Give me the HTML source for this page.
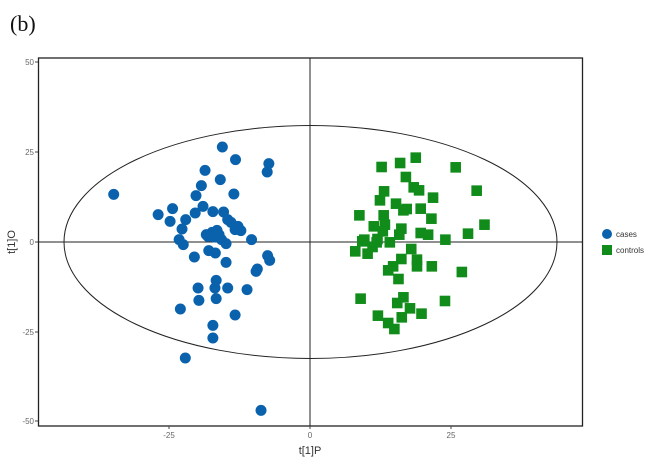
<!DOCTYPE html>
<html><head><meta charset="utf-8"><style>
body{margin:0;background:#fff;}
svg{display:block;font-family:"Liberation Sans",sans-serif;}
</style></head><body>
<svg id="s" width="650" height="468" xmlns="http://www.w3.org/2000/svg">
<text x="10" y="31" font-family="Liberation Serif,serif" font-size="22" fill="#111">(b)</text>
<rect x="38.5" y="58" width="544" height="368" fill="none" stroke="#222" stroke-width="1.3"/>
<line x1="38.5" y1="242" x2="582.5" y2="242" stroke="#222" stroke-width="1"/>
<line x1="310" y1="58" x2="310" y2="426" stroke="#222" stroke-width="1"/>
<ellipse cx="310.5" cy="242" rx="246.5" ry="116.5" fill="none" stroke="#222" stroke-width="1"/>
<g font-size="8" fill="#666" text-anchor="end">
<text x="34" y="65">50</text><text x="34" y="155">25</text><text x="34" y="245">0</text><text x="34" y="335">-25</text><text x="34" y="424">-50</text>
</g>
<g stroke="#444" stroke-width="1">
<line x1="35" y1="62" x2="38" y2="62"/><line x1="35" y1="152" x2="38" y2="152"/><line x1="35" y1="242" x2="38" y2="242"/><line x1="35" y1="332" x2="38" y2="332"/><line x1="35" y1="421" x2="38" y2="421"/>
<line x1="169" y1="426" x2="169" y2="429"/><line x1="310" y1="426" x2="310" y2="429"/><line x1="451" y1="426" x2="451" y2="429"/>
</g>
<g font-size="8" fill="#666" text-anchor="middle">
<text x="169" y="438">-25</text><text x="310" y="438">0</text><text x="451" y="438">25</text>
</g>
<text x="310" y="454" font-size="11" fill="#333" text-anchor="middle">t[1]P</text>
<text transform="translate(15,242) rotate(-90)" font-size="11" fill="#333" text-anchor="middle">t[1]O</text>
<g id="pts"></g>
<circle cx="607" cy="234" r="5" fill="#0a62ad"/>
<text x="616" y="237" font-size="8" fill="#333">cases</text>
<rect x="602" y="245" width="10" height="10" fill="#118c1a"/>
<text x="616" y="253" font-size="8" fill="#333">controls</text>
</svg>
<script>
var cases=[[535,322],[567,360],[648,372],[644,397],[493,392],[530,420],[484,438],[563,463],[271,464],[471,468],[488,500],[379,525],[414,507],[408,545],[446,540],[469,520],[512,516],[538,517],[548,540],[556,548],[573,560],[580,573],[437,568],[566,570],[430,600],[440,615],[496,585],[510,578],[522,572],[527,585],[533,600],[544,612],[606,600],[502,633],[518,640],[467,652],[544,668],[645,648],[650,662],[620,688],[617,695],[476,745],[517,745],[520,722],[548,745],[595,750],[478,782],[520,777],[433,808],[566,826],[512,857],[512,895],[445,955],[629,1112],[500,590],[515,592]];
var ctr=[[922,382],[967,370],[1005,354],[1102,383],[981,412],[1000,443],[1013,452],[928,455],[918,482],[1047,474],[1153,453],[957,492],[983,508],[975,512],[1017,507],[868,527],[927,527],[1043,537],[903,560],[930,555],[970,567],[925,575],[965,585],[1017,580],[1035,585],[1132,582],[1172,555],[1077,600],[875,605],[910,608],[942,608],[858,635],[888,642],[900,622],[994,628],[970,658],[1008,660],[1008,680],[1044,680],[950,680],[938,692],[963,718],[1117,697],[871,777],[975,773],[960,790],[991,806],[1076,784],[913,828],[1019,822],[938,850],[971,833],[953,868],[880,600],[912,598]];
var g=document.getElementById('pts'),ns='http://www.w3.org/2000/svg',h='';
function X(z){return 310+(z-748)/2.43}function Y(z){return 242+(z-607)/3.0}
ctr.forEach(function(p){h+='<rect x="'+(X(p[0])-5.3)+'" y="'+(Y(p[1])-5.3)+'" width="10.6" height="10.6" fill="#118c1a"/>';});
cases.forEach(function(p){h+='<circle cx="'+X(p[0])+'" cy="'+Y(p[1])+'" r="5.5" fill="#0a62ad"/>';});
g.innerHTML=h;
</script>
</body></html>
